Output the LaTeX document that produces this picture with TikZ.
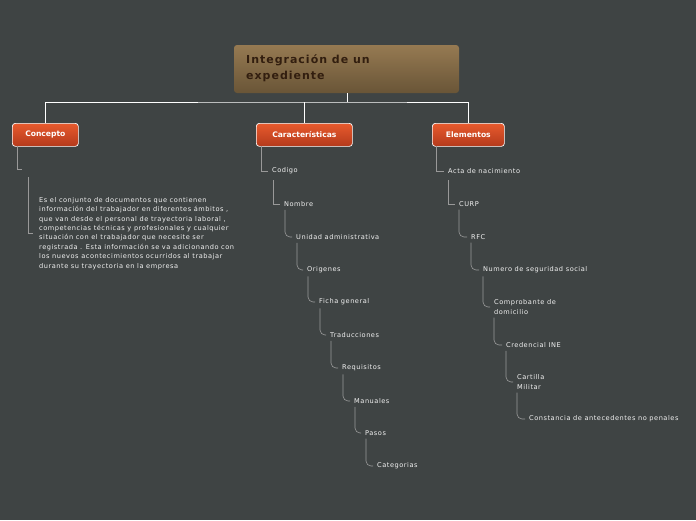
\documentclass[tikz,border=0pt]{standalone}
\usepackage{fontspec}
\setmainfont{DejaVu Sans}
\newfontfamily\widefont[LetterSpace=8]{DejaVu Sans}
\newfontfamily\titlefont[LetterSpace=9]{DejaVu Sans}
\begin{document}
\begin{tikzpicture}[x=1pt,y=-1pt,
  catbox/.style={draw=white,line width=0.7pt,rounded corners=3pt,top color={rgb,255:red,232;green,90;blue,45},bottom color={rgb,255:red,180;green,58;blue,28},text=white,font=\bfseries\fontsize{7.6}{9}\selectfont,minimum height=23pt,anchor=north west,inner sep=0pt},
  item/.style={text=white!90!gray,font=\widefont\fontsize{6.6}{7.6}\selectfont,anchor=west,inner sep=0pt,align=left},
  link/.style={draw=gray!80!white,line width=0.6pt},
  bus/.style={draw=white,line width=0.8pt}]
\fill[fill={rgb,255:red,63;green,68;blue,68}] (0,0) rectangle (696,520);
\shade[rounded corners=3pt,top color={rgb,255:red,150;green,122;blue,82},bottom color={rgb,255:red,105;green,85;blue,55}] (234,45) rectangle (459,93);
\node[anchor=north west,align=left,font=\titlefont\bfseries\fontsize{11}{16}\selectfont,text={rgb,255:red,50;green,30;blue,15},inner sep=0pt] (top) at (246,54) {Integración de un\\expediente};
\coordinate (tb) at (347,93);
\node[catbox,minimum width=66pt] (c1) at (12,123) {Concepto};
\node[catbox,minimum width=96pt] (c2) at (256,123) {Características};
\node[catbox,minimum width=72pt] (c3) at (432,123) {Elementos};
\draw[bus] (tb) -- (347,102);
\draw[bus] (c1.north -| 45,0) |- (347,102) -| (c3.north -| 468,0);
\draw[bus] (304,102) -- (c2.north -| 304,0);
% Concepto
\coordinate (k0) at (22,169);
\draw[link] (17,146) |- (k0);
\node[item,anchor=north west,font=\widefont\fontsize{6.6}{9.4}\selectfont] (desc) at (39,197) {Es el conjunto de documentos que contienen\\información del trabajador en diferentes ámbitos ,\\que van desde el personal de trayectoria laboral ,\\competencias técnicas y profesionales y cualquier\\situación con el trabajador que necesite ser\\registrada . Esta información se va adicionando con\\los nuevos acontecimientos ocurridos al trabajar\\durante su trayectoria en la empresa};
\draw[link] (28,177) |- (33,233);
% Caracteristicas
\foreach \n/\x/\y/\t in {a1/272/171/Codigo,a2/284/204/Nombre,a3/296/237/Unidad administrativa,a4/307/270/Origenes,a5/319/302/Ficha general,a6/330/335/Traducciones,a7/342/368/Requisitos,a8/354/401/Manuales,a9/365/433/Pasos,a10/377/466/Categorias}
  \node[item] (\n) at (\x,\y) {\t};
\draw[link] (261,146) |- ([xshift=-4pt]a1.west);
\draw[link] (273,180) |- ([xshift=-4pt]a2.west);
\foreach \p/\c/\px in {a2/a3/285,a3/a4/297,a4/a5/308,a5/a6/320,a6/a7/331,a7/a8/343,a8/a9/355,a9/a10/366}
  \draw[link,rounded corners=5pt] (\px,0 |- \p.south) ++(0,3) |- ([xshift=-4pt]\c.west);
% Elementos
\foreach \n/\x/\y/\t in {e1/448/171/Acta de nacimiento,e2/459/204/CURP,e3/471/237/RFC,e4/483/270/Numero de seguridad social,e5/494/307/Comprobante de\\domicilio,e6/506/345/Credencial INE,e7/517/382/Cartilla\\Militar,e8/529/419/Constancia de antecedentes no penales}
  \node[item,font=\widefont\fontsize{6.6}{9.5}\selectfont] (\n) at (\x,\y) {\t};
\draw[link] (436,146) |- ([xshift=-4pt]e1.west);
\draw[link] (448,180) |- ([xshift=-4pt]e2.west);
\foreach \p/\c/\px in {e2/e3/459,e3/e4/471,e4/e5/483,e5/e6/494,e6/e7/506,e7/e8/517}
  \draw[link,rounded corners=5pt] (\px,0 |- \p.south) ++(0,3) |- ([xshift=-4pt]\c.west);
\end{tikzpicture}
\end{document}
